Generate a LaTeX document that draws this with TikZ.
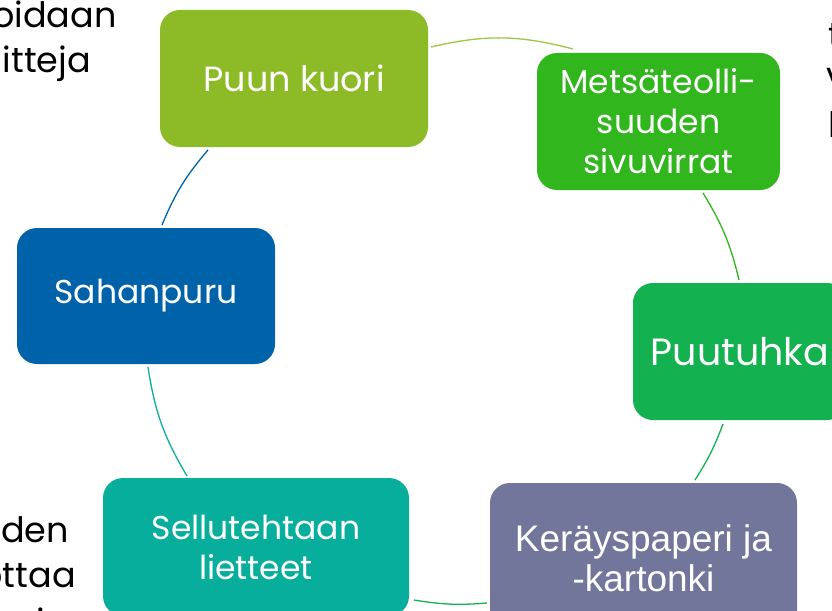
\documentclass[tikz,border=0pt]{standalone}
\usepackage{fontspec}
\setmainfont{Poppins}
\newfontfamily\arialfont{Liberation Sans}
\usetikzlibrary{positioning}

\definecolor{kuorigreen}{HTML}{8CBB27}
\definecolor{sivugreen}{HTML}{31B61D}
\definecolor{tuhkagreen}{HTML}{13B150}
\definecolor{kerayslila}{HTML}{72769A}
\definecolor{lieteteal}{HTML}{08AE9C}
\definecolor{purublue}{HTML}{0062A9}

\tikzset{
  box/.style={rounded corners=20pt, minimum height=137pt, align=center,
    text=white, inner sep=0pt, font=\fontsize{33}{40}\selectfont},
  ring/.style={line width=1.3pt},
  frag/.style={anchor=base west, inner sep=0pt, text=black,
    font=\fontsize{35}{40}\selectfont}
}

\begin{document}
\begin{tikzpicture}[x=1pt,y=1pt]
    \useasboundingbox (0,0) rectangle (832,-610);
    \clip (0,0) rectangle (832,-610);

    % text cut by the frame
    \node[frag] (t1) at (-8,-28) {oidaan};
    \node[frag, anchor=base east] (t2) at (91,-72) {itteja};
    \node[frag] (t3) at (828,-48) {t};
    \node[frag] (t4) at (826,-88) {v};
    \node[frag] (t5) at (828,-137) {l};
    \node[frag, anchor=base east] (t6) at (69,-542) {den};
    \node[frag, anchor=base east] (t7) at (76,-587) {ottaa};
    \node[frag] (t8) at (36,-634) {i};

    % boxes
    \node[box, fill=kuorigreen, minimum width=268pt,
      font=\fontsize{35}{40}\selectfont] (kuori) at (294,-78.5) {Puun kuori};
    \node[box, fill=sivugreen, minimum width=243pt] (sivuvirrat) at (658.5,-121.5) {Metsäteolli-\\suuden\\sivuvirrat};
    \node[box, fill=tuhkagreen, minimum width=214pt,
      font=\fontsize{38}{40}\selectfont] (tuhka) at (740,-351.5) {Puutuhka};
    \node[box, fill=kerayslila, minimum width=307pt, minimum height=150pt,
      font=\arialfont\fontsize{37}{40}\selectfont] (keraysp) at (643.5,-558) {Keräyspaperi ja\\-kartonki};
    \node[box, fill=lieteteal, minimum width=306pt, minimum height=138pt] (liete) at (256,-547) {Sellutehtaan\\lietteet};
    \node[box, fill=purublue, minimum width=258pt, minimum height=136pt] (puru) at (146,-296) {Sahanpuru};

    % ring
    \coordinate (a1) at (431,-47);  \coordinate (b1) at (573,-49);
    \coordinate (a2) at (703,-193); \coordinate (b2) at (739,-280);
    \coordinate (a3) at (723,-424); \coordinate (b3) at (695,-480);
    \coordinate (a4) at (487,-603); \coordinate (b4) at (414,-600);
    \coordinate (a5) at (187,-476); \coordinate (b5) at (148,-367);
    \coordinate (a6) at (162,-225); \coordinate (b6) at (208,-150);
    \draw[ring, kuorigreen!85!white] (a1) to[bend left=14] (b1);
    \draw[ring, sivugreen] (a2) to[bend left=9] (b2);
    \draw[ring, tuhkagreen] (a3) to[bend left=6] (b3);
    \draw[ring, tuhkagreen] (a4) to[bend left=7] (b4);
    \draw[ring, lieteteal] (a5) to[bend left=11] (b5);
    \draw[ring, purublue] (a6) to[bend left=9] (b6);
\end{tikzpicture}
\end{document}
